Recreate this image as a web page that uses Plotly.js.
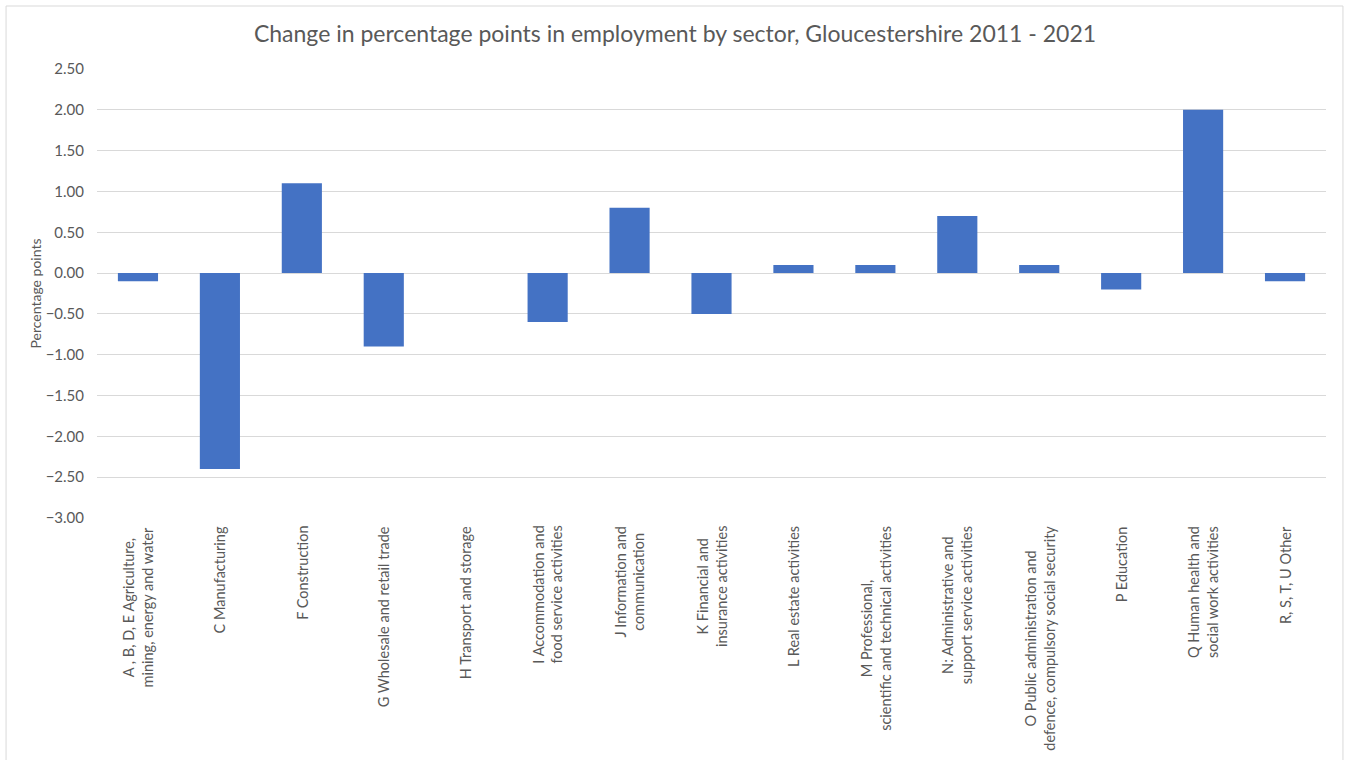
<!DOCTYPE html>
<html>
<head>
<meta charset="utf-8">
<script src="https://cdn.plot.ly/plotly-3.0.1.min.js"></script>
<style>
html,body{margin:0;padding:0;background:#fff;}
#chart{width:1346px;height:760px;}
</style>
</head>
<body>
<div id="chart"></div>
<script>
const categories = [
  "A , B, D, E Agriculture,<br>mining, energy and water",
  "C Manufacturing",
  "F Construction",
  "G Wholesale and retail trade",
  "H Transport and storage",
  "I Accommodation and<br>food service activities",
  "J Information and<br>communication",
  "K Financial and<br>insurance activities",
  "L Real estate activities",
  "M Professional,<br>scientific and technical activities",
  "N: Administrative and<br>support service activities",
  "O Public administration and<br>defence, compulsory social security",
  "P Education",
  "Q Human health and<br>social work activities",
  "R, S, T, U Other"
];
const changeValues = [-0.1, -2.4, 1.1, -0.9, 0.0, -0.6, 0.8, -0.5, 0.1, 0.1, 0.7, 0.1, -0.2, 2.0, -0.1];
const yTickValues = [-3.0, -2.5, -2.0, -1.5, -1.0, -0.5, 0.0, 0.5, 1.0, 1.5, 2.0, 2.5];
const chartTitle = "Change in percentage points in employment by sector, Gloucestershire 2011 - 2021";
const yAxisTitle = "Percentage points";

const fontFamily = "Lato, 'Open Sans', sans-serif";
const textColor = "#595959";

const trace = {
  type: "bar",
  x: categories,
  y: changeValues,
  marker: {color: "#4472C4", line: {width: 0}},
  hoverinfo: "x+y"
};

const labelAnnotations = categories.map(c => ({
  x: c, xref: "x",
  y: 0, yref: "paper",
  yanchor: "top", xanchor: "center",
  yshift: -6,
  text: c,
  textangle: -90,
  align: "center",
  showarrow: false,
  font: {family: fontFamily, size: 14.5, color: textColor}
}));

const layout = {
  width: 1346,
  height: 760,
  margin: {l: 97, r: 20, t: 69, b: 242, pad: 0},
  paper_bgcolor: "#ffffff",
  plot_bgcolor: "#ffffff",
  bargap: 0.51,
  showlegend: false,
  font: {family: fontFamily, color: textColor, size: 14},
  title: {
    text: chartTitle,
    font: {family: fontFamily, size: 23, color: textColor},
    x: 675 / 1346, xanchor: "center", xref: "container",
    y: 1 - 34 / 760, yanchor: "middle", yref: "container"
  },
  xaxis: {
    type: "category",
    showgrid: false,
    showline: false,
    zeroline: false,
    ticks: "",
    showticklabels: false,
    automargin: false
  },
  yaxis: {
    range: [-3.0, 2.5],
    tickvals: yTickValues,
    tickformat: ".2f",
    showgrid: true,
    gridcolor: "#d9d9d9",
    gridwidth: 1,
    zeroline: true,
    zerolinecolor: "#d9d9d9",
    zerolinewidth: 1,
    showline: false,
    ticks: "",
    ticklabelstandoff: 12,
    tickfont: {family: fontFamily, size: 15, color: textColor},
    title: {text: yAxisTitle, font: {family: fontFamily, size: 14, color: textColor}, standoff: 0},
    automargin: false
  },
  annotations: labelAnnotations,
  shapes: [{
    type: "rect", xref: "paper", yref: "paper",
    x0: -0.0740, x1: 1.0138, y0: -0.60, y1: 1.1403,
    line: {color: "#d9d9d9", width: 1}, layer: "below"
  }]
};

Plotly.newPlot("chart", [trace], layout, {displayModeBar: false, staticPlot: true});
</script>
</body>
</html>
